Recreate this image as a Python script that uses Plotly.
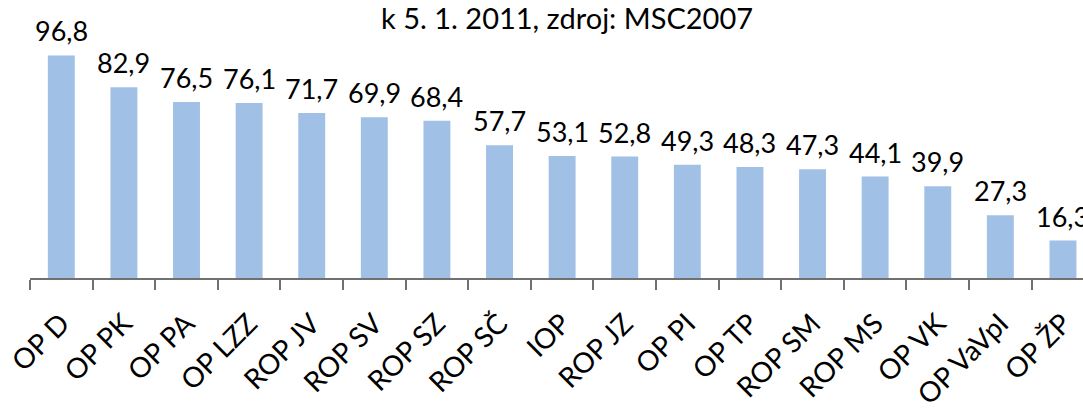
import plotly.graph_objects as go

categories = ["OP D", "OP PK", "OP PA", "OP LZZ", "ROP JV", "ROP SV", "ROP SZ", "ROP SČ", "IOP",
              "ROP JZ", "OP PI", "OP TP", "ROP SM", "ROP MS", "OP VK", "OP VaVpI", "OP ŽP"]
values = [96.8, 82.9, 76.5, 76.1, 71.7, 69.9, 68.4, 57.7, 53.1, 52.8, 49.3, 48.3, 47.3, 44.1, 39.9, 27.3, 16.3]
labels = [f"{v:.1f}".replace(".", ",") for v in values]
title_text = "k 5. 1. 2011, zdroj: MSC2007"

FONT = "Lato, Calibri, sans-serif"

fig = go.Figure(
    go.Bar(
        x=categories,
        y=values,
        marker=dict(color="#A0C0E6", line=dict(width=0)),
        cliponaxis=False,
        hoverinfo="x+y",
    )
)

notes = [
    dict(x=c, y=v, text=t, xref="x", yref="y", yanchor="bottom", yshift=6,
         showarrow=False, font=dict(size=27, family=FONT, color="#000000"))
    for c, v, t in zip(categories, values, labels)
]
notes.append(
    dict(text=title_text, x=(567 - 30) / 1053, y=1 + (40 - 18) / 238,
         xref="paper", yref="paper", yanchor="middle",
         showarrow=False, font=dict(size=29, family=FONT, color="#000000"))
)

fig.update_layout(
    width=1083,
    height=414,
    template="plotly_white",
    paper_bgcolor="#ffffff",
    plot_bgcolor="#ffffff",
    margin=dict(l=30, r=0, t=40, b=136, autoexpand=False),
    bargap=0.57,
    showlegend=False,
    font=dict(family=FONT, color="#000000"),
    annotations=notes,
)

fig.update_xaxes(
    range=[-0.5, 16.32],
    automargin=False,
    showgrid=False,
    showline=True,
    linecolor="#707070",
    linewidth=2,
    ticks="outside",
    tickson="boundaries",
    ticklen=10,
    tickwidth=2,
    tickcolor="#707070",
    tickangle=-45,
    tickfont=dict(size=28, family=FONT, color="#000000"),
    ticklabelstandoff=16,
)
fig.update_yaxes(range=[0, 103.5], visible=False, showgrid=False, zeroline=False, automargin=False)

# drop the default 8px page margin so the chart sits flush with the window
fig.write_html(
    "out.html",
    config={"displayModeBar": False},
    post_script="document.body.style.margin='0';",
)
